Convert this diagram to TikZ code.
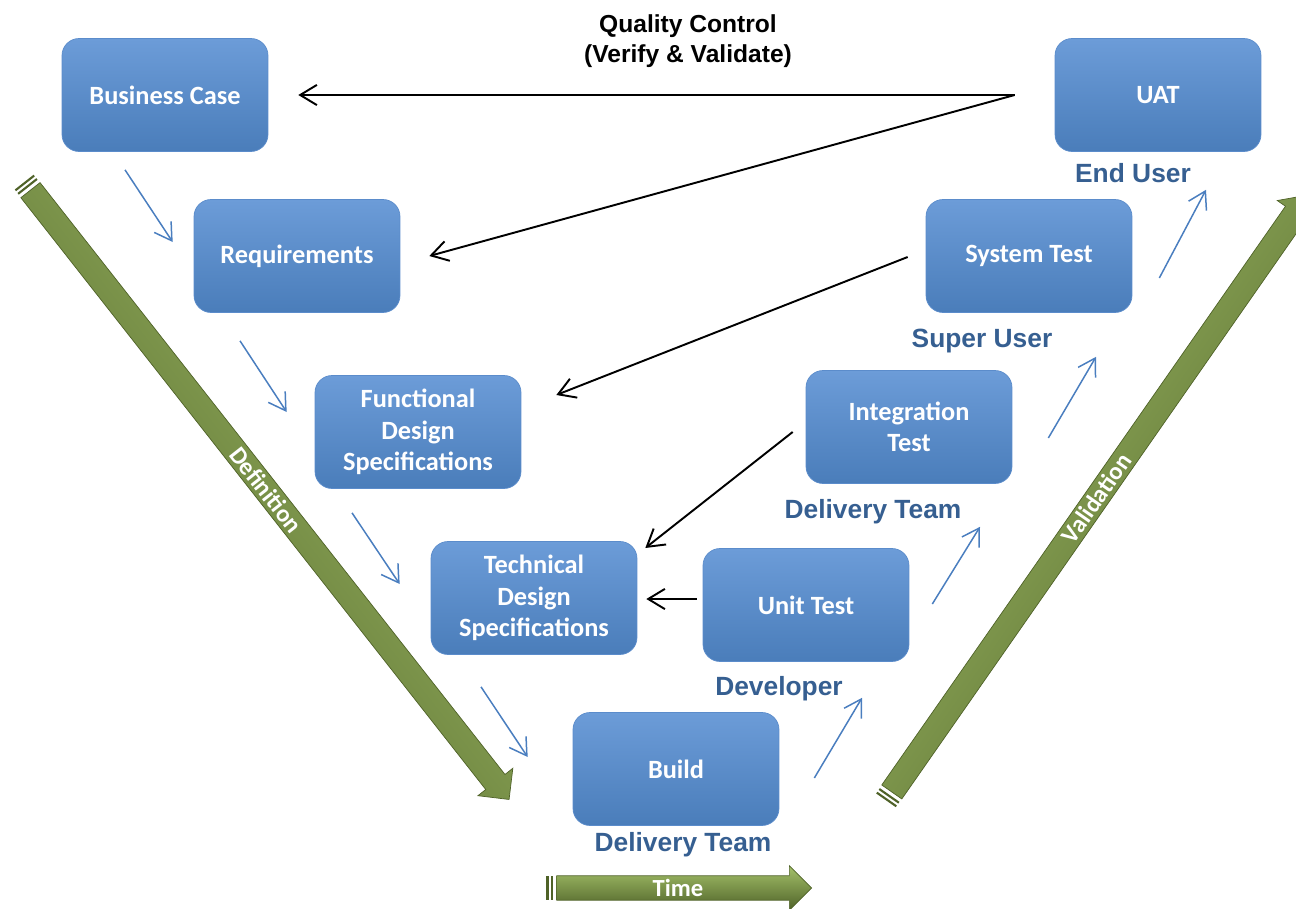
\documentclass[tikz,border=0pt]{standalone}
\usepackage{fontspec}
\setmainfont{Carlito}
\newfontfamily\arialfont{Liberation Sans}
\usetikzlibrary{positioning, calc, arrows.meta, shapes.arrows}

\definecolor{boxtop}{HTML}{6C9CD8}
\definecolor{boxbot}{HTML}{4A7DBA}
\definecolor{boxline}{HTML}{5B8CCB}
\definecolor{rolecol}{HTML}{365F91}
\definecolor{flowcol}{HTML}{4A7EBF}
\definecolor{barlight}{HTML}{A4C16A}
\definecolor{barmid}{HTML}{77933C}
\definecolor{bardark}{HTML}{4F6228}

\begin{document}
\begin{tikzpicture}[x=0.02cm, y=-0.02cm, >={Straight Barb[length=9.5pt, width=11.5pt]}]

  \tikzstyle{phase}=[rectangle, rounded corners=0.34cm, minimum width=4.12cm, minimum height=2.26cm, top color=boxtop, bottom color=boxbot, draw=boxline, text=white, align=center, font=\fontsize{15}{18}\selectfont\bfseries]
  \tikzstyle{role}=[text=rolecol, font=\arialfont\fontsize{15}{18}\selectfont\bfseries]
  \tikzstyle{flow}=[->, draw=flowcol, line width=0.85pt]
  \tikzstyle{check}=[->, draw=black, line width=1.1pt]
  \tikzstyle{bar}=[single arrow, single arrow head extend=0.2cm, single arrow tip angle=90, minimum width=0.88cm, inner ysep=2pt, inner xsep=0pt, text height=9.5pt, text depth=0pt, top color=barlight, middle color=barmid, bottom color=bardark, draw=bardark, text=white, font=\fontsize{14}{18}\selectfont\bfseries]
  \tikzstyle{stripe}=[draw=bardark, line width=1.2pt]

  \clip (0,0) rectangle (1296,909);

  % definition side
  \node[phase] (bcase) at (165,95) {Business Case};
  \node[phase] (req) at (297,256) {Requirements};
  \node[phase] (fds) at (418,432) {Functional\\Design\\Specifications};
  \node[phase] (tds) at (534,598) {Technical\\Design\\Specifications};
  \node[phase] (build) at (676,769) {Build};

  % validation side
  \node[phase] (ut) at (806,605) {Unit Test};
  \node[phase] (int) at (909,427) {Integration\\Test};
  \node[phase] (sys) at (1029,256) {System Test};
  \node[phase] (uat) at (1158,95) {UAT};

  % who does it
  \node[role] (builder) at ([shift={(7,19)}]build.south) {Delivery Team};
  \node[role] (dev) at ([shift={(-27,27)}]ut.south) {Developer};
  \node[role] (team) at ([shift={(-36,28)}]int.south) {Delivery Team};
  \node[role] (super) at ([shift={(-47,28)}]sys.south) {Super User};
  \node[role] (enduser) at ([shift={(-25,21)}]uat.south) {End User};

  \node[font=\arialfont\fontsize{14}{17}\selectfont\bfseries, align=center] (qc) at (688,41) {Quality Control\\(Verify \& Validate)};

  % green bars
  \node[bar, minimum height=15.5cm, rotate=-51.85, shading angle=-51.85] (defn) at (266,490) {Definition};
  \node[bar, minimum height=14.56cm, rotate=55.1, shading angle=55.1] (valid) at (1096.5,498.5) {Validation};
  \node[bar, minimum height=5.1cm] (time) at (678,888) {Time};
  \foreach \a in {defn, valid, time}
    \foreach \d in {2.5pt, 5pt}
      \draw[stripe] ($(\a.tail)!-\d!(\a.tip)!6.8pt!90:(\a.tip)$) -- ($(\a.tail)!-\d!(\a.tip)!6.8pt!-90:(\a.tip)$);

  % step arrows
  \draw[flow] ([shift={(-40,18)}]bcase.south) -- ([shift={(-21,-14)}]req.west);
  \draw[flow] ([shift={(-57,28)}]req.south) -- ([shift={(-28,-20)}]fds.west);
  \draw[flow] ([shift={(-66,24)}]fds.south) -- ([shift={(-31,-14)}]tds.west);
  \draw[flow] ([shift={(-53,32)}]tds.south) -- ([shift={(-45,-12)}]build.west);
  \draw[flow] ([shift={(35,9)}]build.east) -- ([shift={(56,36)}]ut.south);
  \draw[flow] ([shift={(23,-1)}]ut.east) -- ([shift={(71,43)}]int.south);
  \draw[flow] ([shift={(36,11)}]int.east) -- ([shift={(67,44)}]sys.south);
  \draw[flow] ([shift={(27,22)}]sys.east) -- ([shift={(48,38)}]uat.south);

  % quality control
  \coordinate (qcfork) at ([shift={(-40,0)}]uat.west);
  \draw[check] (qcfork) -- ([shift={(30,0)}]bcase.east);
  \draw[check] (qcfork) -- ([shift={(29,0)}]req.east);
  \draw[check] ([shift={(-18,1)}]sys.west) -- ([shift={(35,-37)}]fds.east);
  \draw[check] ([shift={(-13,5)}]int.west) -- ([shift={(8,-50)}]tds.east);
  \draw[check] ([shift={(-6,-6)}]ut.west) -- ([shift={(9,1)}]tds.east);

\end{tikzpicture}
\end{document}
